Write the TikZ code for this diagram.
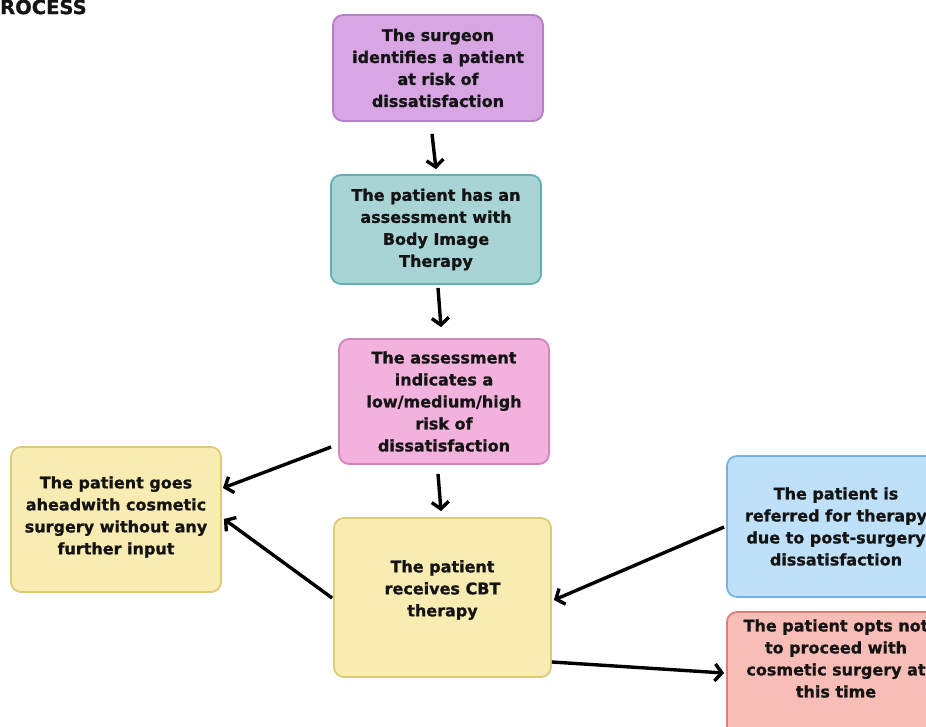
\documentclass[tikz,border=0pt]{standalone}
\usepackage{fontspec}
\setmainfont{DejaVu Sans}[BoldFeatures={FakeBold=1}]
\usetikzlibrary{arrows.meta,calc}
\definecolor{txt}{HTML}{141414}
\definecolor{purF}{HTML}{D8A6E3}\definecolor{purD}{HTML}{B480C8}
\definecolor{tealF}{HTML}{A9D4D6}\definecolor{tealD}{HTML}{62B0B2}
\definecolor{pinkF}{HTML}{F2B2DD}\definecolor{pinkD}{HTML}{D485BE}
\definecolor{yelF}{HTML}{F8ECB2}\definecolor{yelD}{HTML}{DBCB79}
\definecolor{bluF}{HTML}{BEE1F9}\definecolor{bluD}{HTML}{74B4E3}
\definecolor{redF}{HTML}{F8BDB7}\definecolor{redD}{HTML}{DA7F76}
\begin{document}
\begin{tikzpicture}[x=1pt,y=-1pt,
  box/.style={draw, line width=1.8pt, rounded corners=10pt, align=center, inner sep=0pt,
    text=txt, font=\bfseries\fontsize{16}{22}\selectfont},
  lbl/.style={align=center, inner sep=0pt, text=txt, font=\bfseries\fontsize{16}{22}\selectfont},
  arr/.style={line width=3.4pt, draw=black, -{Straight Barb[length=7pt,width=17pt]}}]
\useasboundingbox (0,0) rectangle (926,727);
\clip (0,0) rectangle (926,727);
\node[anchor=west, inner sep=0pt, text=txt, font=\bfseries\fontsize{19.5}{20}\selectfont] (title) at (0,7) {ROCESS};
\node[box, fill=purF, draw=purD, minimum width=210pt, minimum height=106pt] (b1) at (438,68)
  {The surgeon\\identifies a patient\\at risk of\\dissatisfaction};
\node[box, fill=tealF, draw=tealD, minimum width=210pt, minimum height=109pt] (b2) at (436,229.5)
  {The patient has an\\assessment with\\Body Image\\Therapy};
\node[box, fill=pinkF, draw=pinkD, minimum width=210pt, minimum height=125pt] (b3) at (444,401.5)
  {The assessment\\indicates a\\low/medium/high\\risk of\\dissatisfaction};
\node[box, fill=yelF, draw=yelD, minimum width=210pt, minimum height=145pt] (b4) at (116,519.5) {};
\node[lbl] (t4) at (116,517) {The patient goes\\aheadwith cosmetic\\surgery without any\\further input};
\node[box, fill=yelF, draw=yelD, minimum width=217pt, minimum height=159pt] (b5) at (442.5,597.5) {};
\node[lbl] (t5) at (442.5,590) {The patient\\receives CBT\\therapy};
\node[box, fill=bluF, draw=bluD, minimum width=218pt, minimum height=141pt] (b6) at (836,526.5)
  {The patient is\\referred for therapy\\due to post-surgery\\dissatisfaction};
\node[box, fill=redF, draw=redD, minimum width=218pt, minimum height=140pt] (b7) at (836,682) {};
\node[lbl] (t7) at (836,658.5) {The patient opts not\\to proceed with\\cosmetic surgery at\\this time};
\draw[arr] ($(b1.south)+(-6,12)$) -- ($(b2.north)+(0,-5)$);
\draw[arr] ($(b2.south)+(2,3)$) -- ($(b3.north)+(-3,-11)$);
\draw[arr] ($(b3.south)+(-6,9)$) -- ($(b5.north)+(-1.5,-6)$);
\draw[arr] ($(b3.west)+(-7,45.5)$) -- ($(b4.east)+(1,-31.5)$);
\draw[arr] ($(b5.west)+(-1,0.5)$) -- ($(b4.east)+(2,-0.5)$);
\draw[arr] ($(b6.west)+(-2,0.5)$) -- ($(b5.east)+(2,2.5)$);
\draw[arr] ($(b5.east)+(0,64.5)$) -- ($(b7.west)+(-2,-9)$);
\end{tikzpicture}
\end{document}
